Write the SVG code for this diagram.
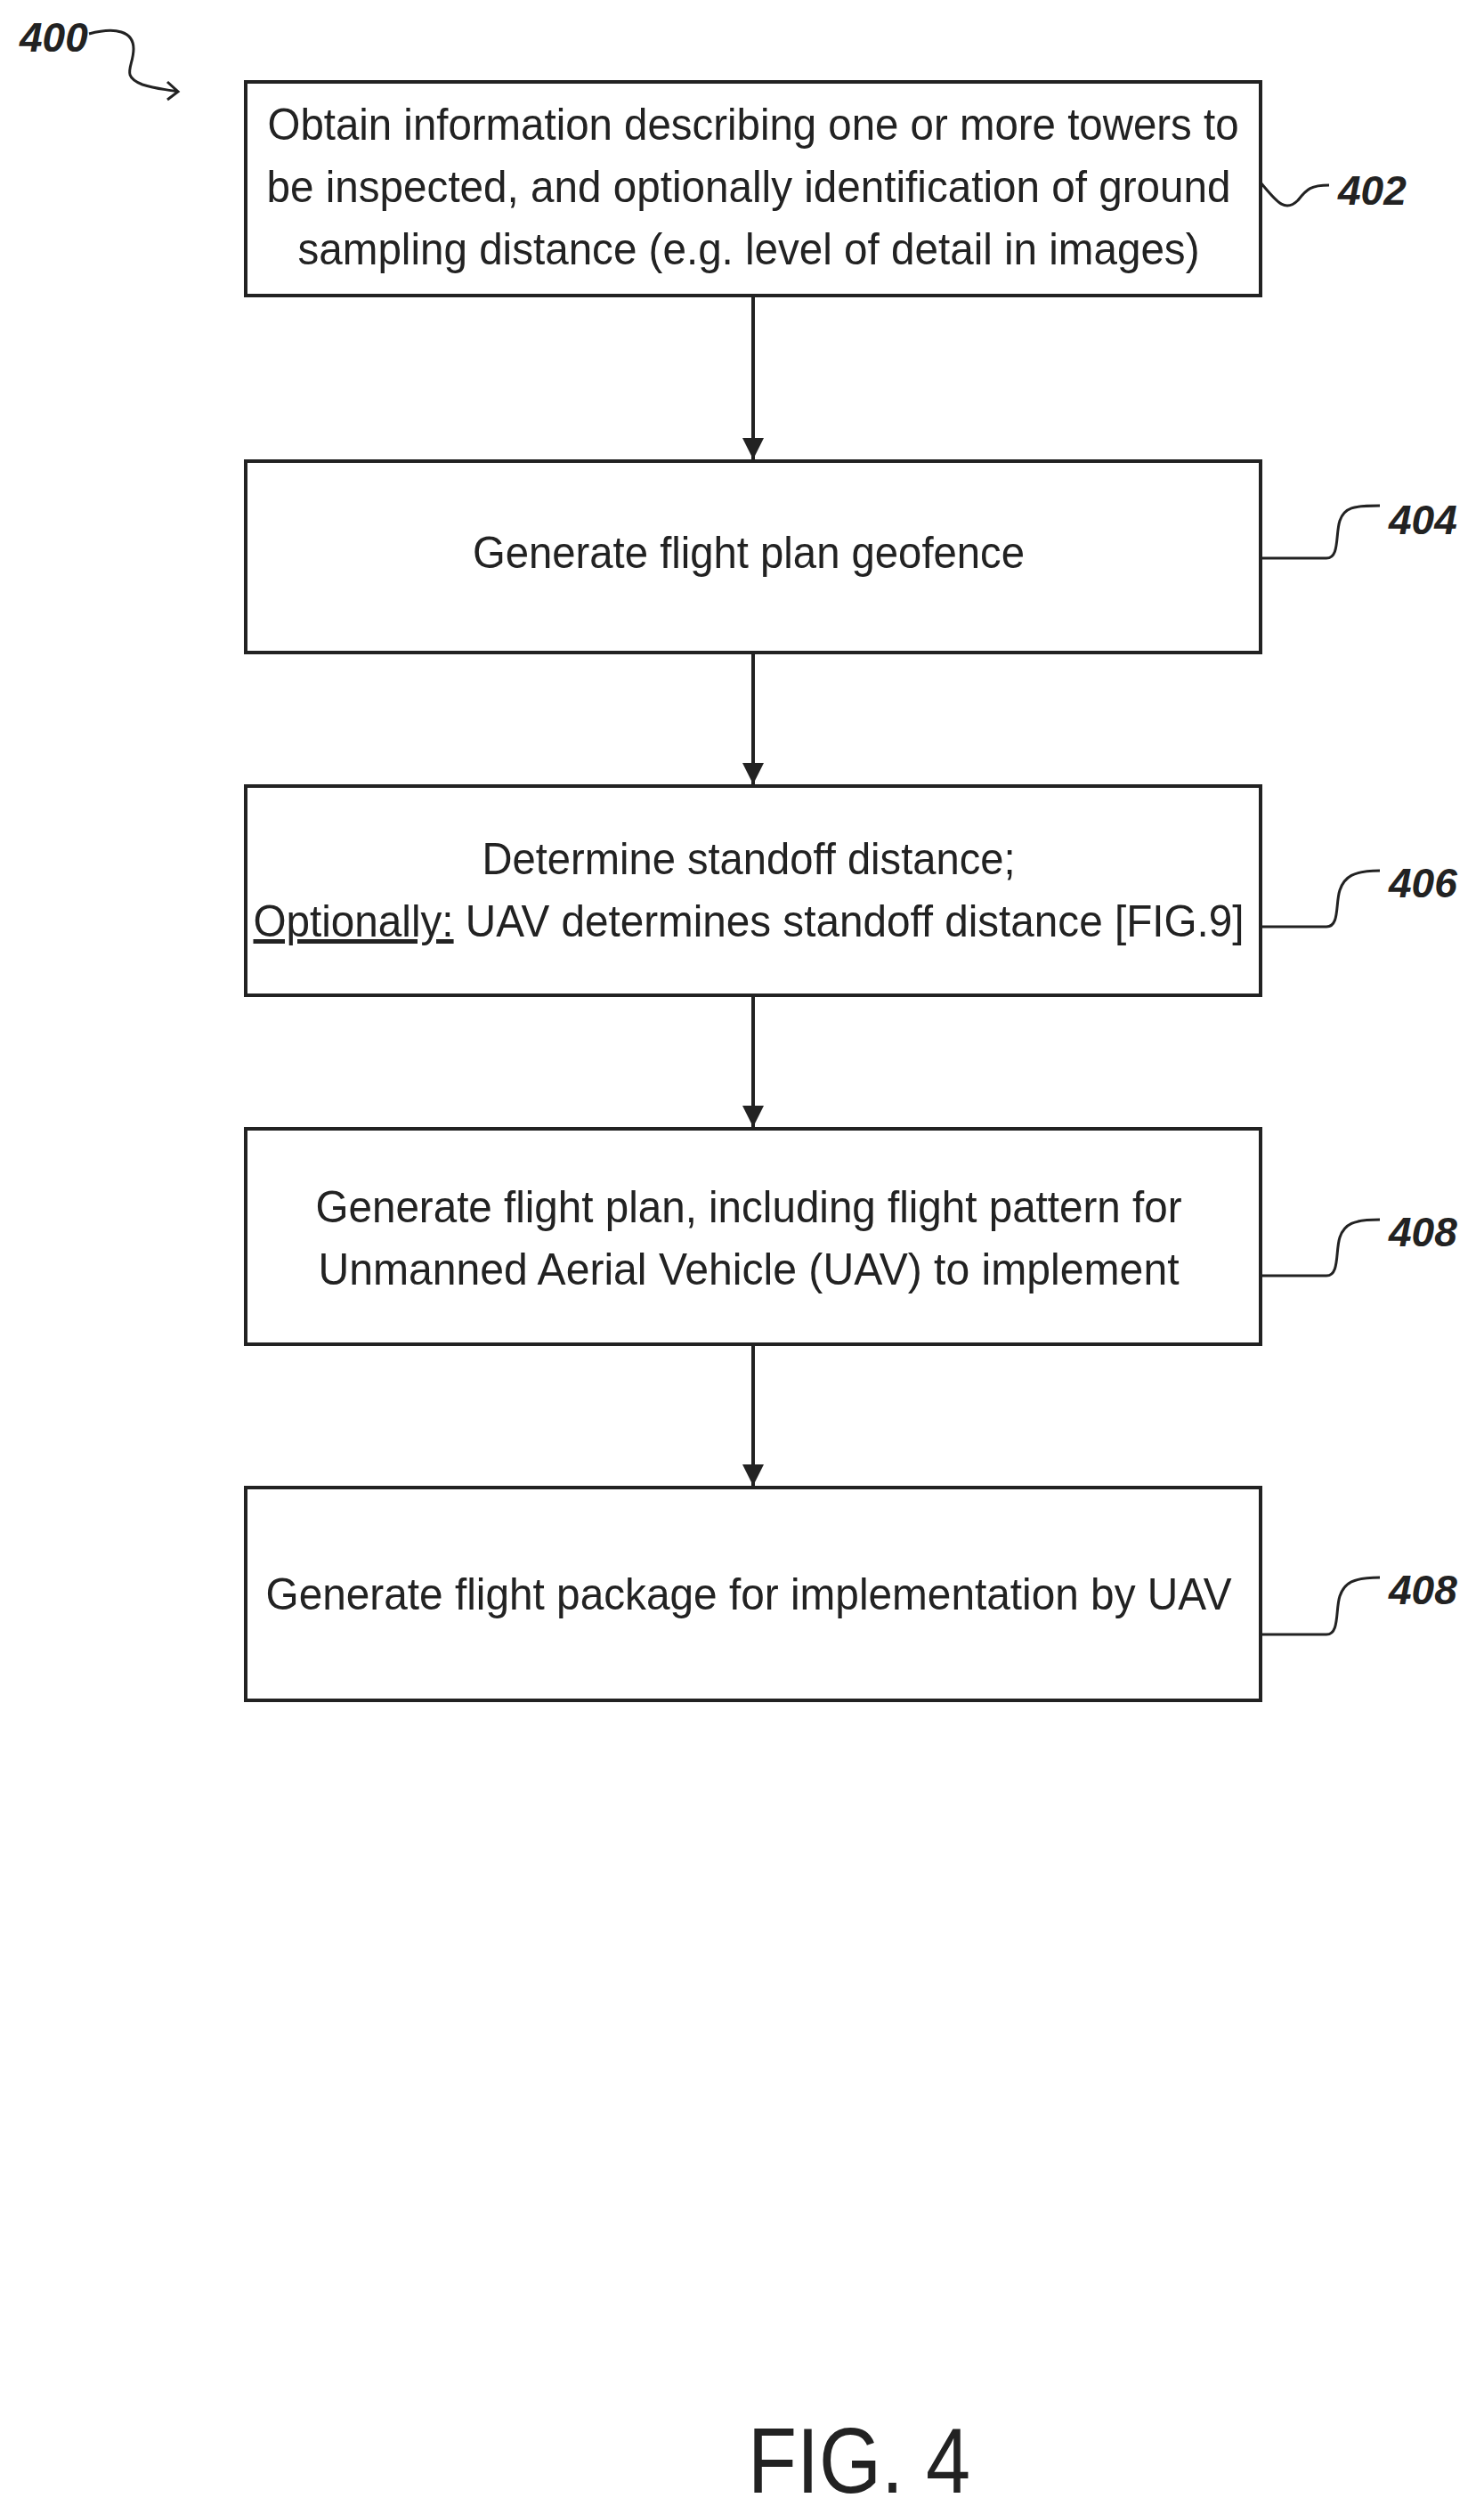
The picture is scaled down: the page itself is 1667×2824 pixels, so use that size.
<svg xmlns="http://www.w3.org/2000/svg" width="1667" height="2824" viewBox="0 0 1667 2824">
<style>
.box{fill:#fff;stroke:#222;stroke-width:4}
.t{font-family:"Liberation Sans",Arial,sans-serif;font-size:50px;fill:#222;text-anchor:middle}
.ref{font-family:"Liberation Sans",Arial,sans-serif;font-size:46px;font-weight:bold;font-style:italic;fill:#222}
.ld{fill:none;stroke:#222;stroke-width:3}
.c{stroke:#222;stroke-width:4;fill:none}
</style>
<defs>
<marker id="a2" markerWidth="24" markerHeight="26" refX="24" refY="12" orient="auto" markerUnits="userSpaceOnUse"><path d="M0,0 L24,12 L0,24 z" fill="#222"/></marker></defs>
<g id="n400"><text class="ref" x="22" y="58">400</text><path class="ld" d="M100,38 C130,30 150,35 150,55 C150,75 135,85 160,95 C175,100 185,100 200,103 M188,92 L200,103 L188,112"/></g>
<g id="n402"><rect class="box" x="276" y="92" width="1140" height="240"/>
<text class="t" x="846" y="157" textLength="1091" lengthAdjust="spacingAndGlyphs">Obtain information describing one or more towers to</text>
<text class="t" x="841" y="227" textLength="1083" lengthAdjust="spacingAndGlyphs">be inspected, and optionally identification of ground</text>
<text class="t" x="841" y="297" textLength="1013" lengthAdjust="spacingAndGlyphs">sampling distance (e.g. level of detail in images)</text>
<path class="ld" d="M1416,205 C1433,225 1443,240 1458,225 C1468,212 1473,208 1493,208"/><text class="ref" x="1503" y="230">402</text></g>
<g id="n404"><rect class="box" x="276" y="518" width="1140" height="215"/>
<text class="t" x="841" y="638" textLength="620" lengthAdjust="spacingAndGlyphs">Generate flight plan geofence</text>
<path class="ld" d="M1416,627 L1490,627 C1505,627 1500,600 1505,585 C1510,570 1520,568 1550,568"/><text class="ref" x="1560" y="600">404</text></g>
<g id="n406"><rect class="box" x="276" y="883" width="1140" height="235"/>
<text class="t" x="841" y="982" textLength="599" lengthAdjust="spacingAndGlyphs">Determine standoff distance;</text>
<text class="t" x="841" y="1052" textLength="1113" lengthAdjust="spacingAndGlyphs"><tspan text-decoration="underline">Optionally:</tspan> UAV determines standoff distance [FIG.9]</text>
<path class="ld" d="M1416,1041 L1490,1041 C1505,1041 1500,1015 1505,1000 C1510,985 1520,978 1550,978"/><text class="ref" x="1560" y="1008">406</text></g>
<g id="n408a"><rect class="box" x="276" y="1268" width="1140" height="242"/>
<text class="t" x="841" y="1373" textLength="973" lengthAdjust="spacingAndGlyphs">Generate flight plan, including flight pattern for</text>
<text class="t" x="841" y="1443" textLength="967" lengthAdjust="spacingAndGlyphs">Unmanned Aerial Vehicle (UAV) to implement</text>
<path class="ld" d="M1416,1433 L1490,1433 C1505,1433 1500,1405 1505,1390 C1510,1375 1520,1370 1550,1370"/><text class="ref" x="1560" y="1400">408</text></g>
<g id="n408b"><rect class="box" x="276" y="1671" width="1140" height="239"/>
<text class="t" x="841" y="1808" textLength="1085" lengthAdjust="spacingAndGlyphs">Generate flight package for implementation by UAV</text>
<path class="ld" d="M1416,1836 L1490,1836 C1505,1836 1500,1808 1505,1793 C1510,1778 1520,1772 1550,1772"/><text class="ref" x="1560" y="1802">408</text></g>
<g id="connectors">
<line class="c" x1="846" y1="332" x2="846" y2="516" marker-end="url(#a2)"/>
<line class="c" x1="846" y1="733" x2="846" y2="881" marker-end="url(#a2)"/>
<line class="c" x1="846" y1="1118" x2="846" y2="1266" marker-end="url(#a2)"/>
<line class="c" x1="846" y1="1510" x2="846" y2="1669" marker-end="url(#a2)"/>
</g>
<text x="965" y="2800" font-family="Liberation Sans,Arial,sans-serif" font-size="104" fill="#222" text-anchor="middle" textLength="250" lengthAdjust="spacingAndGlyphs">FIG. 4</text>
</svg>
